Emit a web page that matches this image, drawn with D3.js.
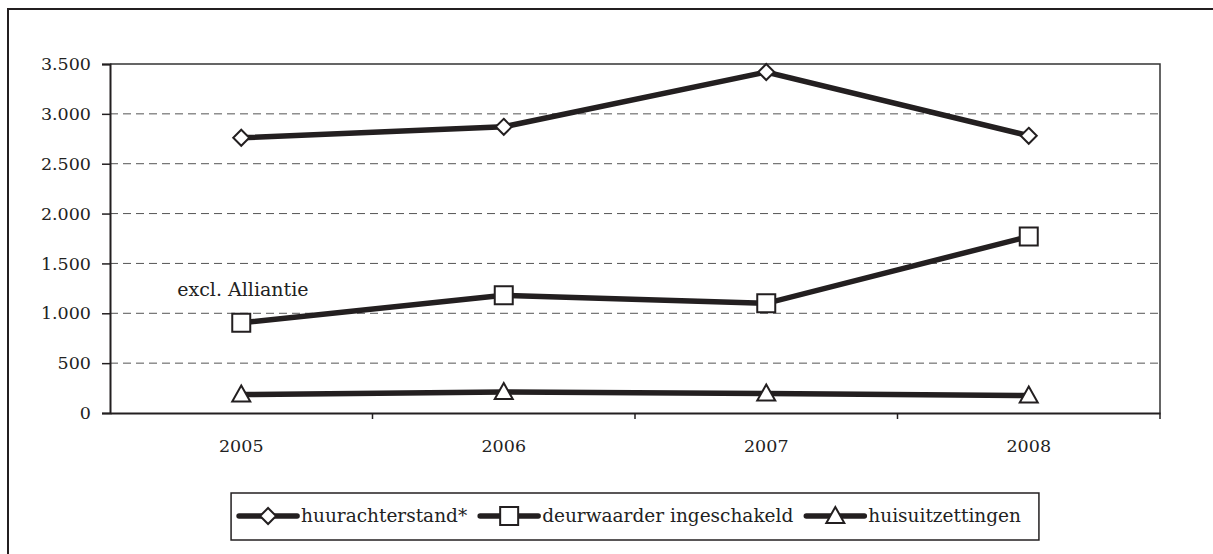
<!DOCTYPE html>
<html>
<head>
<meta charset="utf-8">
<script src="https://cdn.jsdelivr.net/npm/d3@7"></script>
<style>
  body { margin: 0; background: #fff; }
  text { font-family: "DejaVu Serif", serif; fill: #222; }
</style>
</head>
<body>
<div class="chart"></div>
<script>
var width = 1213,
    height = 554;

// data
var years = ["2005", "2006", "2007", "2008"];
var huurachterstand = [2760, 2870, 3420, 2780];
var deurwaarder = [905, 1180, 1100, 1770];
var huisuitzettingen = [185, 210, 195, 175];
var yTicks = [0, 500, 1000, 1500, 2000, 2500, 3000, 3500];
var seriesNames = ["huurachterstand*", "deurwaarder ingeschakeld", "huisuitzettingen"];
var note = "excl. Alliantie";

var series = [
  {name: seriesNames[0], values: huurachterstand, marker: "diamond"},
  {name: seriesNames[1], values: deurwaarder, marker: "square"},
  {name: seriesNames[2], values: huisuitzettingen, marker: "triangle"}
];

var margin = {left: 110, right: 53, top: 64, bottom: 141};

var svg = d3.select(".chart").append("svg")
    .attr("width", width)
    .attr("height", height);

// outer frame (cut off at right and bottom)
svg.append("rect")
    .attr("x", 8).attr("y", 9)
    .attr("width", width + 20).attr("height", height + 20)
    .attr("fill", "none").attr("stroke", "#231f20").attr("stroke-width", 2);

var x = d3.scaleBand()
    .domain(years)
    .range([margin.left, width - margin.right]);

var y = d3.scaleLinear()
    .domain([0, 3500])
    .range([height - margin.bottom, margin.top]);

// gridlines
svg.append("g")
  .selectAll("line")
  .data(yTicks.filter(function(d) { return d > 0 && d < 3500; }))
  .enter().append("line")
    .attr("x1", margin.left).attr("x2", width - margin.right)
    .attr("y1", function(d) { return y(d); })
    .attr("y2", function(d) { return y(d); })
    .attr("stroke", "#555")
    .attr("stroke-width", 1)
    .attr("stroke-dasharray", "8,5");

// plot border top + right
svg.append("path")
    .attr("d", "M" + margin.left + "," + y(3500) + "H" + (width - margin.right) + "V" + y(0))
    .attr("fill", "none").attr("stroke", "#333").attr("stroke-width", 1.5);

// y axis
var yAxis = d3.axisLeft(y)
    .tickValues(yTicks)
    .tickSize(8)
    .tickPadding(11)
    .tickFormat(function(d) { return d3.format(",")(d).replace(/,/g, "."); });

var gy = svg.append("g")
    .attr("transform", "translate(" + margin.left + ",0)")
    .call(yAxis);
gy.select(".domain").attr("stroke", "#231f20").attr("stroke-width", 2);
gy.selectAll(".tick line").attr("stroke", "#231f20").attr("stroke-width", 1.5);
gy.selectAll("text").attr("font-size", 17.5).attr("font-family", "DejaVu Serif").attr("fill", "#222");

// x axis with ticks between categories
var xAxis = d3.axisBottom(x).tickSize(0).tickPadding(27);
var gx = svg.append("g")
    .attr("transform", "translate(0," + y(0) + ")")
    .call(xAxis);
gx.select(".domain").attr("stroke", "#231f20").attr("stroke-width", 2);
gx.selectAll("text").attr("font-size", 17.5).attr("font-family", "DejaVu Serif").attr("fill", "#222");

var bounds = years.map(function(d) { return x(d) + x.bandwidth(); });
gx.selectAll(".sep")
  .data(bounds)
  .enter().append("line")
    .attr("class", "sep")
    .attr("x1", function(d) { return d; }).attr("x2", function(d) { return d; })
    .attr("y1", 0).attr("y2", 6)
    .attr("stroke", "#231f20").attr("stroke-width", 1.5);

var cx = function(i) { return x(years[i]) + x.bandwidth() / 2; };

var line = d3.line()
    .x(function(d, i) { return cx(i); })
    .y(function(d) { return y(d); });

function markerPath(type) {
  if (type === "diamond") return "M0,-8L8,0L0,8L-8,0Z";
  if (type === "square") return "M-9,-9H9V9H-9Z";
  return "M0,-9L9,7H-9Z";
}

series.forEach(function(s) {
  svg.append("path")
      .datum(s.values)
      .attr("d", line)
      .attr("fill", "none")
      .attr("stroke", "#231f20")
      .attr("stroke-width", 5.5);
});

series.forEach(function(s) {
  svg.append("g").selectAll("path")
    .data(s.values)
    .enter().append("path")
      .attr("transform", function(d, i) { return "translate(" + cx(i) + "," + y(d) + ")"; })
      .attr("d", markerPath(s.marker))
      .attr("fill", "#fff")
      .attr("stroke", "#231f20")
      .attr("stroke-width", 2);
});

// annotation
svg.append("text")
    .attr("x", cx(0) - 64)
    .attr("y", y(1170))
    .attr("text-anchor", "start")
    .attr("font-size", 19)
    .text(note);

// legend
var legend = svg.append("g");
var legendBox = legend.append("rect")
    .attr("fill", "#fff").attr("stroke", "#231f20").attr("stroke-width", 1.5);

var lx = 0;
var items = [];
series.forEach(function(s, i) {
  var g = legend.append("g");
  g.append("line")
      .attr("x1", 0).attr("x2", 58)
      .attr("stroke", "#231f20").attr("stroke-width", 5.5)
      .attr("stroke-linecap", "round");
  g.append("path")
      .attr("transform", "translate(29,0)")
      .attr("d", markerPath(s.marker))
      .attr("fill", "#fff").attr("stroke", "#231f20").attr("stroke-width", 2);
  var t = g.append("text")
      .attr("x", 62).attr("y", 6)
      .attr("font-size", 18.5)
      .text(s.name);
  items.push({g: g, w: 62 + t.node().getComputedTextLength()});
});
var gap = 13;
var total = d3.sum(items, function(d) { return d.w; }) + gap * (items.length - 1);
var legendCx = 630, legendCy = 516;
lx = legendCx - total / 2;
items.forEach(function(it) {
  it.g.attr("transform", "translate(" + lx + "," + legendCy + ")");
  lx += it.w + gap;
});
legendBox
    .attr("x", legendCx - total / 2 - 8)
    .attr("y", 493)
    .attr("width", total + 26)
    .attr("height", 47);
</script>
</body>
</html>
